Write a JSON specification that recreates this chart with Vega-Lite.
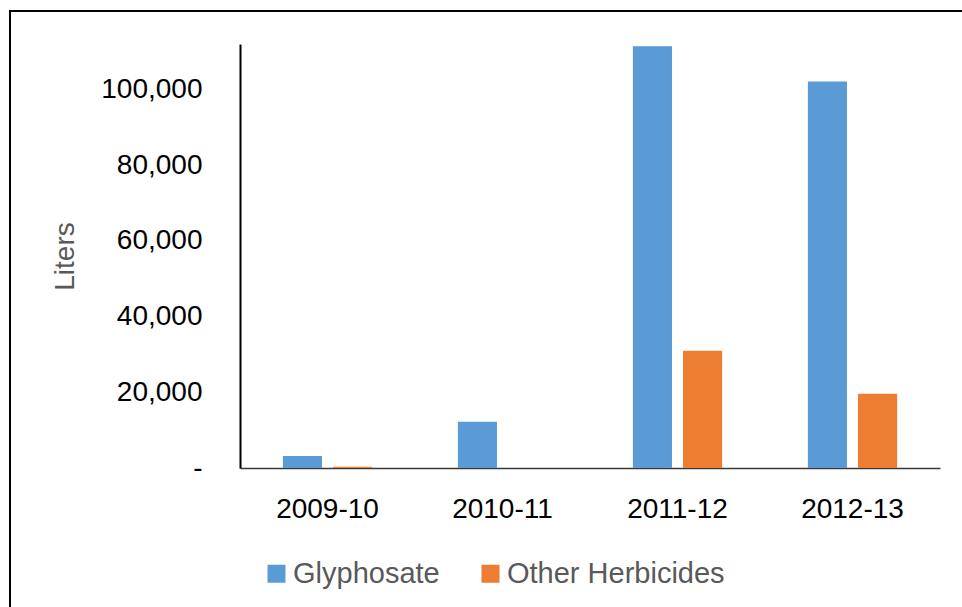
{
  "$schema": "https://vega.github.io/schema/vega-lite/v6.json",
  "autosize": {"type": "none"},
  "width": 960,
  "height": 600,
  "padding": {"left": 10, "top": 11, "right": 0, "bottom": 0},
  "background": "white",
  "config": {
    "view": {"stroke": "#000000", "strokeWidth": 2},
    "font": "Liberation Sans"
  },
  "data": {
    "values": [
      {"season": "2009-10", "type": "Glyphosate", "liters": 3200},
      {"season": "2009-10", "type": "Other Herbicides", "liters": 300},
      {"season": "2010-11", "type": "Glyphosate", "liters": 12200},
      {"season": "2010-11", "type": "Other Herbicides", "liters": 0},
      {"season": "2011-12", "type": "Glyphosate", "liters": 111400},
      {"season": "2011-12", "type": "Other Herbicides", "liters": 31000},
      {"season": "2012-13", "type": "Glyphosate", "liters": 102100},
      {"season": "2012-13", "type": "Other Herbicides", "liters": 19600}
    ]
  },
  "mark": {"type": "bar"},
  "encoding": {
    "x": {
      "field": "season",
      "type": "nominal",
      "sort": null,
      "scale": {"range": [230, 930], "paddingInner": 0.49, "paddingOuter": 0.245},
      "axis": {
        "title": null,
        "orient": "bottom",
        "offset": -143,
        "labelAngle": 0,
        "labelFontSize": 28,
        "labelColor": "#000000",
        "labelPadding": 27,
        "ticks": false,
        "tickSize": 0,
        "domainColor": "#3a3a3a",
        "domainWidth": 1.5,
        "grid": false
      }
    },
    "xOffset": {
      "field": "type",
      "type": "nominal",
      "sort": ["Glyphosate", "Other Herbicides"],
      "scale": {"paddingInner": 0.22, "paddingOuter": 0}
    },
    "y": {
      "field": "liters",
      "type": "quantitative",
      "scale": {"domain": [0, 112000], "range": [457, 33], "nice": false, "zero": true},
      "axis": {
        "title": "Liters",
        "titleFontSize": 28,
        "titleFontWeight": "normal",
        "titleColor": "#595959",
        "titlePadding": 21,
        "offset": -230,
        "values": [0, 20000, 40000, 60000, 80000, 100000],
        "labelExpr": "datum.value == 0 ? '-\u2007' : format(datum.value, ',')",
        "labelFontSize": 28,
        "labelColor": "#000000",
        "labelPadding": 38,
        "ticks": false,
        "tickSize": 0,
        "domainColor": "#000000",
        "domainWidth": 2,
        "grid": false
      }
    },
    "color": {
      "field": "type",
      "type": "nominal",
      "sort": ["Glyphosate", "Other Herbicides"],
      "scale": {"domain": ["Glyphosate", "Other Herbicides"], "range": ["#5B9BD5", "#ED7D31"]},
      "legend": {
        "title": null,
        "orient": "none",
        "direction": "horizontal",
        "legendX": 252,
        "legendY": 548,
        "symbolType": "square",
        "symbolSize": 324,
        "symbolStrokeWidth": 0,
        "labelFontSize": 29,
        "labelColor": "#595959",
        "labelOffset": 2,
        "columnPadding": 36,
        "labelLimit": 400
      }
    }
  }
}
